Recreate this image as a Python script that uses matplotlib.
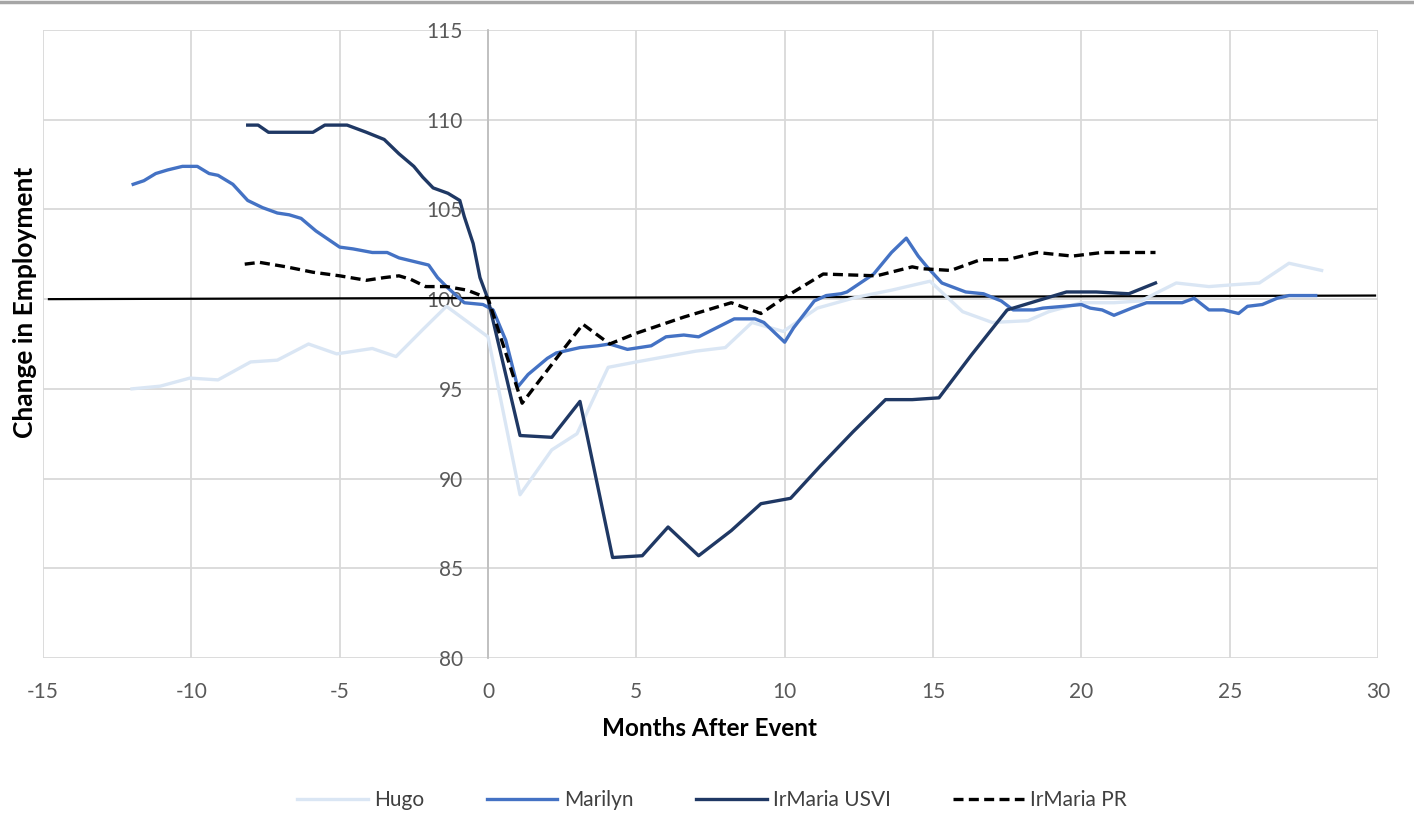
#!/usr/bin/env python3

"""Employment index around hurricane events (Hugo, Marilyn, Irma/Maria)."""

import matplotlib
import matplotlib.lines as mlines

matplotlib.use("Agg")
from matplotlib import pyplot as plt

plt.rcParams["font.family"] = ["Lato", "DejaVu Sans"]
plt.rcParams["axes.unicode_minus"] = False

# --- data (months after event, employment index) ---
hugo_x = [-12.0, -11.05, -10.05, -9.1, -8.0, -7.1, -6.05, -5.1, -3.9, -3.1, -2.2, -1.4,
          0.0, 1.08, 2.15, 3.0, 4.05, 5.0, 6.0, 7.0, 8.0, 8.9, 9.95, 11.1, 12.4, 13.6,
          14.9, 16.0, 17.0, 18.2, 18.9, 20.0, 21.1, 22.0, 23.2, 24.3, 25.1, 26.0, 27.0, 28.1]
hugo_y = [95.0, 95.15, 95.6, 95.5, 96.5, 96.6, 97.5, 96.95, 97.25, 96.8, 98.3, 99.6,
          97.9, 89.1, 91.6, 92.5, 96.2, 96.5, 96.8, 97.1, 97.3, 98.7, 98.2, 99.5, 100.1, 100.5,
          101.0, 99.3, 98.7, 98.8, 99.3, 99.8, 99.8, 99.9, 100.9, 100.7, 100.8, 100.9, 102.0, 101.6]

marilyn_x = [-11.96, -11.6, -11.2, -10.8, -10.3, -9.8, -9.4, -9.1, -8.6, -8.1, -7.6, -7.1,
             -6.7, -6.3, -5.8, -5.0, -4.55, -3.9, -3.4, -3.0, -2.5, -2.0, -1.7, -1.4, -0.8,
             -0.17, 0.17, 0.6, 1.0, 1.35, 2.0, 2.3, 3.1, 3.7, 4.1, 4.7, 5.5, 6.0, 6.6, 7.1,
             7.7, 8.3, 9.0, 9.3, 10.0, 10.3, 11.0, 11.4, 11.9, 12.1, 13.0, 13.6, 14.1, 14.5,
             14.8, 15.3, 16.1, 16.7, 17.3, 17.7, 18.4, 18.7, 19.4, 20.0, 20.3, 20.7, 21.1,
             21.7, 22.2, 22.9, 23.4, 23.8, 24.3, 24.8, 25.3, 25.6, 26.1, 26.6, 27.0, 27.9]
marilyn_y = [106.4, 106.6, 107.0, 107.2, 107.4, 107.4, 107.0, 106.9, 106.4, 105.5, 105.1, 104.8,
             104.7, 104.5, 103.8, 102.9, 102.8, 102.6, 102.6, 102.3, 102.1, 101.9, 101.2, 100.7, 99.8,
             99.7, 99.4, 97.7, 95.1, 95.8, 96.7, 97.0, 97.3, 97.4, 97.5, 97.2, 97.4, 97.9, 98.0, 97.9,
             98.4, 98.9, 98.9, 98.7, 97.6, 98.4, 99.9, 100.2, 100.3, 100.4, 101.4, 102.6, 103.4, 102.4,
             101.8, 100.9, 100.4, 100.3, 99.9, 99.4, 99.4, 99.5, 99.6, 99.7, 99.5, 99.4, 99.1,
             99.5, 99.8, 99.8, 99.8, 100.05, 99.4, 99.4, 99.2, 99.6, 99.7, 100.05, 100.2, 100.2]

usvi_x = [-8.1, -7.75, -7.4, -5.9, -5.5, -4.75, -4.1, -3.5, -3.0, -2.5, -2.2, -1.85, -1.35,
          -0.95, -0.8, -0.5, -0.27, 0.0, 1.08, 2.15, 3.1, 4.2, 5.2, 6.07, 7.1, 8.2, 9.2, 10.2,
          11.2, 12.3, 13.4, 14.3, 15.2, 16.3, 17.5, 18.5, 19.5, 20.5, 21.6, 22.5]
usvi_y = [109.7, 109.7, 109.3, 109.3, 109.7, 109.7, 109.3, 108.9, 108.1, 107.4, 106.8, 106.2, 105.9,
          105.5, 104.6, 103.1, 101.2, 100.0, 92.4, 92.3, 94.3, 85.6, 85.7, 87.3, 85.7, 87.1, 88.6, 88.9,
          90.7, 92.6, 94.4, 94.4, 94.5, 96.9, 99.4, 99.9, 100.4, 100.4, 100.3, 100.9]

pr_x = [-8.2, -7.7, -6.8, -5.9, -5.0, -4.1, -3.5, -3.0, -2.6, -2.1, -1.4, -0.7, 0.0,
        1.15, 2.4, 3.2, 4.1, 5.0, 6.6, 8.2, 9.2, 10.0, 11.3, 13.1, 14.3, 14.6, 15.6, 16.6,
        17.5, 18.5, 19.7, 20.7, 21.6, 22.5]
pr_y = [101.95, 102.05, 101.8, 101.5, 101.3, 101.05, 101.2, 101.3, 101.1, 100.7, 100.7, 100.5, 100.05,
        94.2, 96.9, 98.6, 97.5, 98.1, 99.0, 99.8, 99.2, 100.1, 101.4, 101.3, 101.8, 101.7, 101.6, 102.2,
        102.2, 102.6, 102.4, 102.6, 102.6, 102.6]

baseline_x = [-14.8, 29.9]
baseline_y = [100.0, 100.2]

x_ticks = list(range(-15, 31, 5))
y_ticks = list(range(80, 116, 5))

GRID = "#d9d9d9"
TICK_COLOR = "#595959"


def main():
    fig = plt.figure(figsize=(14.14, 8.35), dpi=100)
    ax = fig.add_axes([43 / 1414, 1 - 658 / 835, (1378 - 43) / 1414, (658 - 30) / 835])

    ax.plot(baseline_x, baseline_y, color="black", lw=1.6, zorder=3)
    ax.plot(hugo_x, hugo_y, color="#dae6f4", lw=2.4, label="Hugo", zorder=4)
    ax.plot(marilyn_x, marilyn_y, color="#4472c4", lw=2.4, label="Marilyn", zorder=5)
    ax.plot(usvi_x, usvi_y, color="#1f3864", lw=2.4, label="IrMaria USVI", zorder=6)
    ax.plot(pr_x, pr_y, color="black", lw=2.4, ls=(0, (3, 1.6)), label="IrMaria PR", zorder=7)

    ax.set_xlim(-15, 30)
    ax.set_ylim(80, 115)
    ax.set_xticks(x_ticks)
    ax.set_yticks(y_ticks)
    ax.grid(True, color=GRID, lw=1.3, zorder=0)
    ax.set_axisbelow(True)

    for side in ["top", "right", "bottom"]:
        ax.spines[side].set_visible(False)
    ax.spines["left"].set_position(("data", 0))
    ax.spines["left"].set_color("#bfbfbf")
    ax.spines["left"].set_linewidth(1.3)
    ax.spines["left"].set_zorder(1)

    ax.tick_params(axis="both", length=0, labelsize=15, labelcolor=TICK_COLOR)
    ax.tick_params(axis="y", pad=18)
    ax.tick_params(axis="x", pad=17)
    for lbl in ax.get_yticklabels():
        lbl.set_zorder(10)

    fig.text(710 / 1414, 1 - 728 / 835, "Months After Event", ha="center", va="center",
             fontsize=17.5, fontweight="bold", color="black")
    fig.text(25 / 1414, 1 - 302 / 835, "Change in Employment", ha="center", va="center",
             rotation=90, fontsize=19, fontweight="bold", color="black")

    fig.legend(loc="center", bbox_to_anchor=(712 / 1414, 1 - 800 / 835), ncol=4, frameon=False,
               fontsize=15, handlelength=3.4, columnspacing=3.0, handletextpad=0.3,
               labelcolor="#404040")

    fig.add_artist(mlines.Line2D([0, 1], [0.998, 0.998], color="#a6a6a6", lw=2.5))

    fig.savefig("out.png", dpi=100)
    plt.close(fig)


if __name__ == "__main__":
    main()
